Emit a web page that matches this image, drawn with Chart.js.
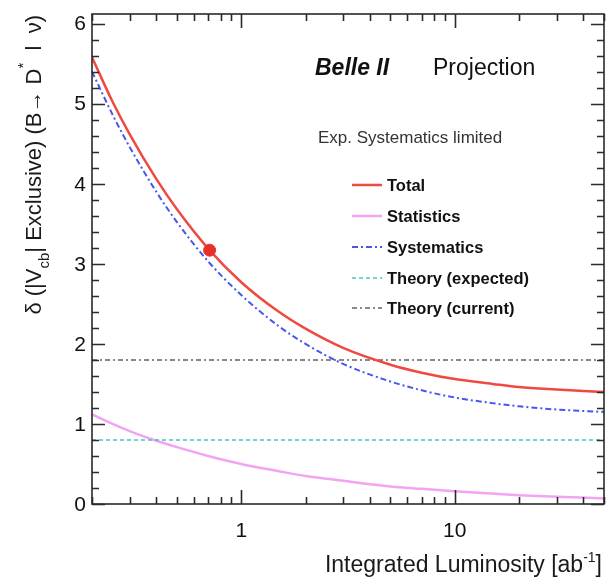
<!DOCTYPE html>
<html>
<head>
<meta charset="utf-8">
<script src="https://cdn.jsdelivr.net/npm/chart.js@4.4.0/dist/chart.umd.min.js"></script>
<style>
html, body { margin: 0; padding: 0; background: #fff; }
canvas { display: block; }
</style>
</head>
<body>
<canvas id="lumiChart" width="611" height="577"></canvas>
<script>
// integrated luminosity [ab^-1] and the projected uncertainties
const lumi = [0.2, 0.25, 0.3, 0.4, 0.5, 0.7, 1, 1.5, 2, 3, 5, 7, 10, 15, 20, 30, 50];
const totalErr = [5.58, 5.02, 4.62, 4.06, 3.68, 3.19, 2.77, 2.40, 2.19, 1.95, 1.74, 1.64, 1.56, 1.50, 1.46, 1.43, 1.40];
const statErr = [1.12, 1.00, 0.91, 0.79, 0.71, 0.60, 0.50, 0.41, 0.35, 0.29, 0.22, 0.19, 0.16, 0.13, 0.11, 0.09, 0.07];
const systErr = [5.40, 4.86, 4.46, 3.90, 3.52, 3.03, 2.61, 2.22, 2.00, 1.75, 1.53, 1.42, 1.33, 1.26, 1.22, 1.18, 1.15];
const theoryExpected = [0.8, 0.8];
const theoryCurrent = [1.8, 1.8];
const theoryLumi = [0.2, 50];
const currentLumi = [0.711];
const currentTotal = [3.17];

const xMajorTicks = [1, 10];
const xTickLabels = ['1', '10'];
const xMinorTicks = [0.2, 0.3, 0.4, 0.5, 0.6, 0.7, 0.8, 0.9, 2, 3, 4, 5, 6, 7, 8, 9, 20, 30, 40, 50];
const yMajorTicks = [0, 1, 2, 3, 4, 5, 6];
const yTickLabels = ['0', '1', '2', '3', '4', '5', '6'];

const legendLabels = ['Total', 'Statistics', 'Systematics', 'Theory (expected)', 'Theory (current)'];

const FONT = "'Liberation Sans', Arial, Helvetica, sans-serif";

function pts(xs, ys) {
    return xs.map((v, i) => ({ x: v, y: ys[i] }));
}

// draws text pieces one after another; each piece may be shifted and smaller (sub/superscript)
function drawPieces(ctx, pieces, startX, baseY) {
    let cx = startX;
    pieces.forEach(p => {
        ctx.font = p.font;
        ctx.fillText(p.text, cx, baseY + (p.dy || 0));
        cx += ctx.measureText(p.text).width;
    });
    return cx;
}

function piecesWidth(ctx, pieces) {
    let w = 0;
    pieces.forEach(p => {
        ctx.font = p.font;
        w += ctx.measureText(p.text).width;
    });
    return w;
}

const rootStyle = {
    id: 'rootStyle',
    afterDraw(chart) {
        const { ctx, chartArea: a, scales: { x, y } } = chart;
        ctx.save();
        ctx.setLineDash([]);
        ctx.strokeStyle = '#2a2a2a';
        ctx.lineWidth = 1.6;

        // frame
        ctx.strokeRect(a.left, a.top, a.right - a.left, a.bottom - a.top);

        // y ticks, inside on both sides
        ctx.beginPath();
        for (let k = 0; k <= 30; k++) {
            const v = k * 0.2;
            const py = Math.round(y.getPixelForValue(v)) + 0.5;
            const len = (k % 5 === 0) ? 13 : 7;
            ctx.moveTo(a.left, py); ctx.lineTo(a.left + len, py);
            ctx.moveTo(a.right, py); ctx.lineTo(a.right - len, py);
        }
        // x ticks, inside on bottom and top
        xMinorTicks.forEach(v => {
            const px = Math.round(x.getPixelForValue(v)) + 0.5;
            ctx.moveTo(px, a.bottom); ctx.lineTo(px, a.bottom - 7);
            ctx.moveTo(px, a.top); ctx.lineTo(px, a.top + 7);
        });
        xMajorTicks.forEach(v => {
            const px = Math.round(x.getPixelForValue(v)) + 0.5;
            ctx.moveTo(px, a.bottom); ctx.lineTo(px, a.bottom - 14);
            ctx.moveTo(px, a.top); ctx.lineTo(px, a.top + 14);
        });
        ctx.stroke();

        // tick labels
        ctx.fillStyle = '#111';
        ctx.font = '21px ' + FONT;
        ctx.textAlign = 'right';
        ctx.textBaseline = 'middle';
        yMajorTicks.forEach((v, i) => {
            ctx.fillText(yTickLabels[i], a.left - 6, y.getPixelForValue(v) + 1);
        });
        ctx.textAlign = 'center';
        ctx.textBaseline = 'top';
        xMajorTicks.forEach((v, i) => {
            ctx.fillText(xTickLabels[i], x.getPixelForValue(v), a.bottom + 17);
        });

        // x axis title, right aligned
        ctx.fillStyle = '#1a1a1a';
        ctx.textAlign = 'left';
        ctx.textBaseline = 'alphabetic';
        const xTitle = [
            { text: 'Integrated Luminosity [ab', font: '23px ' + FONT },
            { text: '-1', font: '14px ' + FONT, dy: -10 },
            { text: ']', font: '23px ' + FONT }
        ];
        drawPieces(ctx, xTitle, a.right - 2 - piecesWidth(ctx, xTitle), 572);

        // y axis title, rotated, right aligned at the top
        const yTitle = [
            { text: 'δ (|V', font: '22px ' + FONT },
            { text: 'cb', font: '15px ' + FONT, dy: 8 },
            { text: '| Exclusive) (B\u2192 D', font: '22px ' + FONT },
            { text: '*', font: '15px ' + FONT, dy: -13 },
            { text: '  l  \u03bd)', font: '22px ' + FONT }
        ];
        ctx.save();
        ctx.translate(41, 0);
        ctx.rotate(-Math.PI / 2);
        drawPieces(ctx, yTitle, -15 - piecesWidth(ctx, yTitle), 0);
        ctx.restore();

        // Belle II Projection label
        ctx.fillStyle = '#111';
        ctx.font = 'italic bold 23px ' + FONT;
        ctx.textBaseline = 'alphabetic';
        ctx.fillText('Belle II', 315, 75);
        ctx.font = '23px ' + FONT;
        ctx.fillText('Projection', 433, 75);

        ctx.fillStyle = '#333';
        ctx.font = '17px ' + FONT;
        ctx.textBaseline = 'middle';
        ctx.fillText('Exp. Systematics limited', 318, 138);

        // legend
        const rowY = [185, 216, 247, 278, 308];
        chart.data.datasets.slice(0, 5).forEach((ds, i) => {
            ctx.save();
            ctx.strokeStyle = ds.borderColor;
            ctx.lineWidth = ds.borderWidth;
            ctx.setLineDash(ds.borderDash || []);
            ctx.beginPath();
            ctx.moveTo(352, rowY[i]);
            ctx.lineTo(382, rowY[i]);
            ctx.stroke();
            ctx.restore();
            ctx.fillStyle = '#111';
            ctx.font = 'bold 16.5px ' + FONT;
            ctx.fillText(legendLabels[i], 387, rowY[i] + 1);
        });
        ctx.restore();
    }
};

new Chart(document.getElementById('lumiChart'), {
    type: 'line',
    data: {
        datasets: [{
            label: 'Total',
            data: pts(lumi, totalErr),
            borderColor: '#ef4a40',
            borderWidth: 2.5,
            order: 1
        }, {
            label: 'Statistics',
            data: pts(lumi, statErr),
            borderColor: '#f2a4f2',
            borderWidth: 2.5,
            order: 5
        }, {
            label: 'Systematics',
            data: pts(lumi, systErr),
            borderColor: '#4656ee',
            borderWidth: 2,
            borderDash: [6, 3, 2, 3],
            order: 2
        }, {
            label: 'Theory (expected)',
            data: pts(theoryLumi, theoryExpected),
            borderColor: '#45c4c4',
            borderWidth: 1.6,
            borderDash: [4, 3],
            order: 4
        }, {
            label: 'Theory (current)',
            data: pts(theoryLumi, theoryCurrent),
            borderColor: '#8a8a8a',
            borderWidth: 2,
            borderDash: [5, 3, 2, 3],
            order: 3
        }, {
            label: 'Current',
            data: pts(currentLumi, currentTotal),
            borderColor: '#e8302a',
            backgroundColor: '#e8302a',
            showLine: false,
            pointRadius: 6,
            order: 0
        }]
    },
    options: {
        responsive: false,
        animation: false,
        layout: {
            padding: { left: 92, right: 5, top: 14, bottom: 73 }
        },
        elements: {
            point: { radius: 0, hoverRadius: 0 },
            line: { cubicInterpolationMode: 'monotone', fill: false }
        },
        scales: {
            x: {
                type: 'logarithmic',
                min: 0.2,
                max: 50,
                display: false
            },
            y: {
                type: 'linear',
                min: 0,
                max: 6.12,
                display: false
            }
        },
        plugins: {
            legend: { display: false },
            tooltip: { enabled: false }
        }
    },
    plugins: [rootStyle]
});
</script>
</body>
</html>
